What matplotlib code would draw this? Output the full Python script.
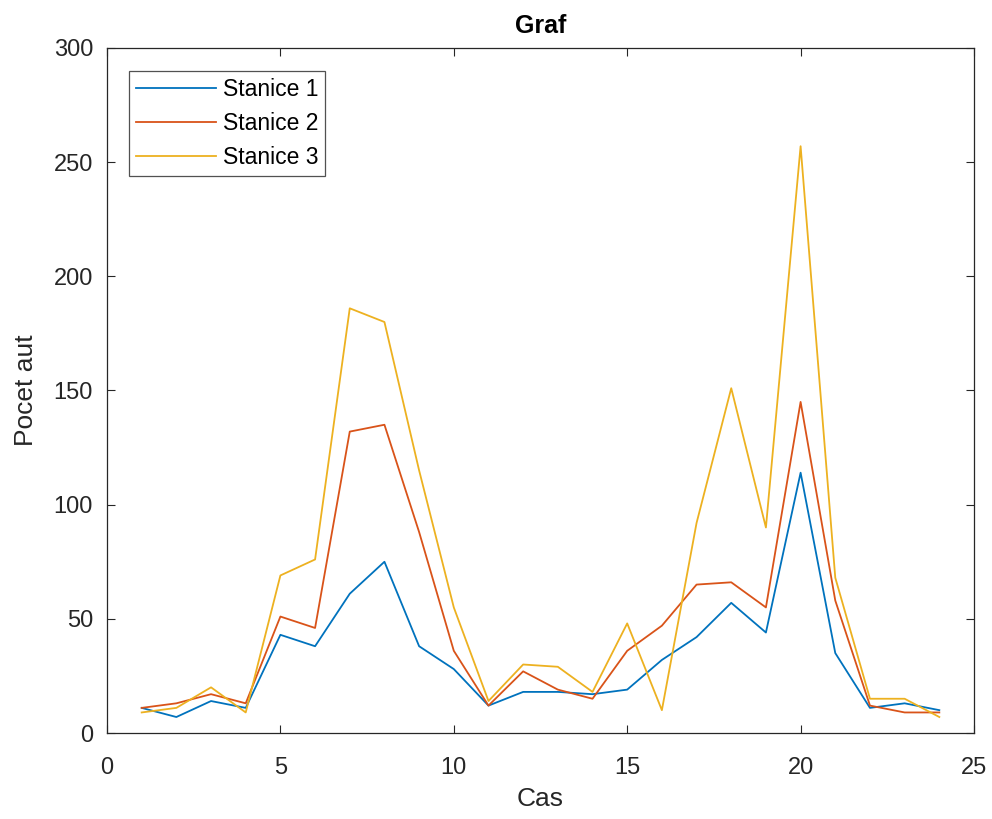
import matplotlib.pyplot as plt
import numpy as np

# hourly car counts at three stations
hours = np.arange(1, 25)
stanice1 = [11, 7, 14, 11, 43, 38, 61, 75, 38, 28, 12, 18, 18, 17, 19, 32, 42, 57, 44, 114, 35, 11, 13, 10]
stanice2 = [11, 13, 17, 13, 51, 46, 132, 135, 88, 36, 12, 27, 19, 15, 36, 47, 65, 66, 55, 145, 58, 12, 9, 9]
stanice3 = [9, 11, 20, 9, 69, 76, 186, 180, 115, 55, 14, 30, 29, 18, 48, 10, 92, 151, 90, 257, 68, 15, 15, 7]
labels = ["Stanice 1", "Stanice 2", "Stanice 3"]
colors = ["#0072BD", "#D95319", "#EDB120"]

plt.rcParams['font.family'] = ['Liberation Sans', 'DejaVu Sans']
dark = "#262626"

fig = plt.figure(figsize=(9.92, 8.19), dpi=100)
ax = fig.add_axes([107 / 992, 1 - 733 / 819, (974 - 107) / 992, (733 - 48) / 819])

for y, lab, c in zip([stanice1, stanice2, stanice3], labels, colors):
    ax.plot(hours, y, color=c, lw=1.3, label=lab)

ax.set_xlim(0, 25)
ax.set_ylim(0, 300)
ax.set_xticks(np.arange(0, 26, 5))
ax.set_yticks(np.arange(0, 301, 50))
ax.tick_params(direction='in', length=6, width=0.8, colors=dark, labelsize=17,
               top=True, right=True)
ax.tick_params(axis='x', pad=17)
ax.tick_params(axis='y', pad=10)
for s in ax.spines.values():
    s.set_color(dark)
    s.set_linewidth(0.9)

ax.set_title("Graf", fontsize=18, fontweight='bold', color='black', pad=11)
ax.set_xlabel("Cas", fontsize=19, color=dark, labelpad=6)
ax.set_ylabel("Pocet aut", fontsize=19, color=dark, labelpad=11)

leg = ax.legend(loc='upper left', bbox_to_anchor=(22 / 867, 1 - 23 / 685), fontsize=16.5,
                fancybox=False, edgecolor=dark, handlelength=3.5, handletextpad=0.3,
                borderpad=0.3, labelspacing=0.48, borderaxespad=0)
leg.get_frame().set_linewidth(0.9)

fig.savefig("out.png", dpi=100, facecolor='white')
